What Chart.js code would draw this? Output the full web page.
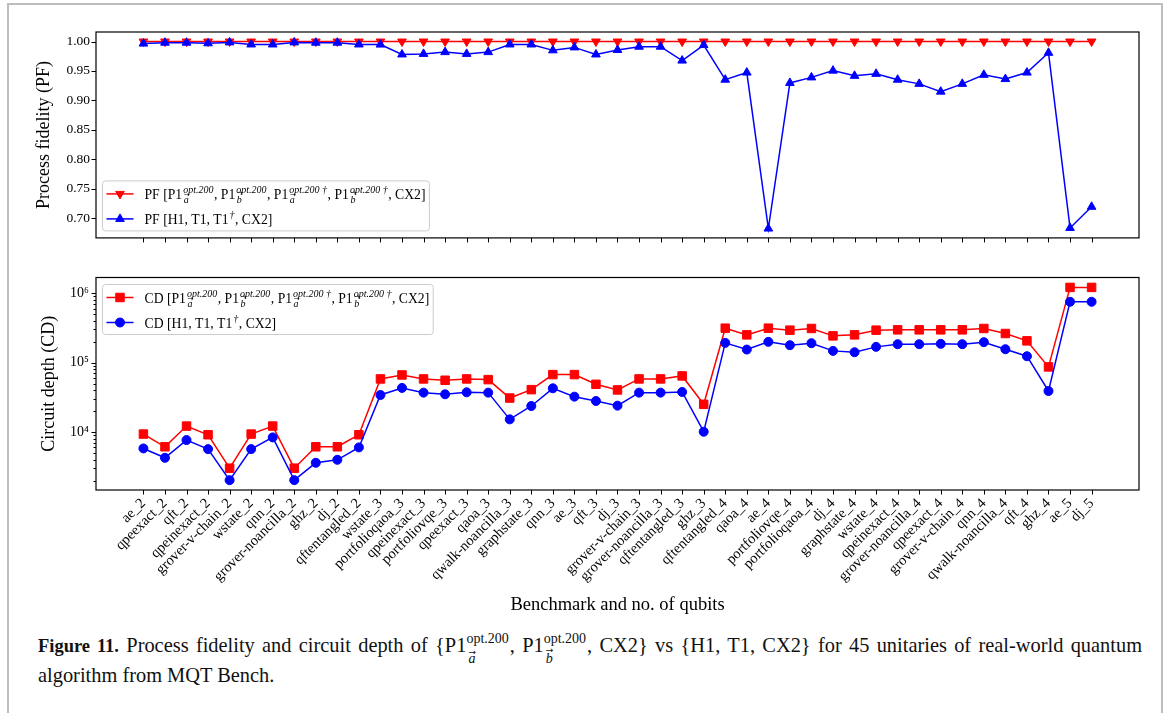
<!DOCTYPE html>
<html>
<head>
<meta charset="utf-8">
<script src="https://cdn.jsdelivr.net/npm/chart.js@4.4.0/dist/chart.umd.min.js"></script>
<style>
  body { margin: 0; background: #fff; width: 1167px; height: 713px; overflow: hidden; position: relative; font-family: "Liberation Serif", serif; }
  #frame { position: absolute; left: 7px; top: 3px; width: 1152px; height: 800px; border: 2px solid #bdbdbd; }
  canvas { position: absolute; left: 0; }
  #pf { top: 0; }
  #cd { top: 260px; }
  .cap { position: absolute; left: 38px; font-size: 20.4px; color: #111; white-space: nowrap; }
  .cap b { font-size: 18.5px; }
  #cap1 { width: 1104px; white-space: normal; text-align: justify; text-align-last: justify; }
  .ss { display: inline-flex; flex-direction: column; font-size: 14px; line-height: 14px; vertical-align: 9px; margin-right: 1px; }
  .vec { position: relative; font-style: italic; align-self: flex-start; margin: 6px 0 0 2px; }
  .arr { position: absolute; left: 0; top: -7px; font-size: 9px; font-style: normal; font-family: "DejaVu Sans", sans-serif; }
</style>
</head>
<body>
<div id="frame"></div>
<canvas id="pf" width="1167" height="252"></canvas>
<canvas id="cd" width="1167" height="360"></canvas>
<div id="cap1" class="cap" style="top:632px"><b>Figure 11.</b> Process fidelity and circuit depth of {P1<span class="ss"><span>opt.200</span><span class="vec">a<span class="arr">→</span></span></span>, P1<span class="ss"><span>opt.200</span><span class="vec">b<span class="arr" style="top:-9px">→</span></span></span>, CX2} vs {H1, T1, CX2} for 45 unitaries of real-world quantum</div>
<div class="cap" style="top:664px">algorithm from MQT Bench.</div>
<script>
const benchmarks = ['ae_2', 'qpeexact_2', 'qft_2', 'qpeinexact_2', 'grover-v-chain_2', 'wstate_2', 'qnn_2',
  'grover-noancilla_2', 'ghz_2', 'dj_2', 'qftentangled_2', 'wstate_3', 'portfolioqaoa_3', 'qpeinexact_3',
  'portfoliovqe_3', 'qpeexact_3', 'qaoa_3', 'qwalk-noancilla_3', 'graphstate_3', 'qnn_3', 'ae_3', 'qft_3',
  'dj_3', 'grover-v-chain_3', 'grover-noancilla_3', 'qftentangled_3', 'ghz_3', 'qftentangled_4', 'qaoa_4',
  'ae_4', 'portfoliovqe_4', 'portfolioqaoa_4', 'dj_4', 'graphstate_4', 'wstate_4', 'qpeinexact_4',
  'grover-noancilla_4', 'qpeexact_4', 'grover-v-chain_4', 'qnn_4', 'qwalk-noancilla_4', 'qft_4', 'ghz_4',
  'ae_5', 'dj_5'];

// process fidelity
const pfOpt = [1.0, 1.0, 1.0, 1.0, 1.0, 1.0, 1.0, 1.0, 1.0, 1.0, 1.0, 1.0, 1.0, 1.0, 1.0,
  1.0, 1.0, 1.0, 1.0, 1.0, 1.0, 1.0, 1.0, 1.0, 1.0, 1.0, 1.0, 1.0, 1.0, 1.0,
  1.0, 1.0, 1.0, 1.0, 1.0, 1.0, 1.0, 1.0, 1.0, 1.0, 1.0, 1.0, 1.0, 1.0, 1.0];
const pfBase = [0.9965, 0.998, 0.998, 0.997, 0.9985, 0.995, 0.995, 0.9985, 0.998, 0.998, 0.995, 0.9948,
  0.978, 0.979, 0.982, 0.979, 0.982, 0.995, 0.995, 0.985, 0.990, 0.978, 0.9857, 0.9912, 0.9912, 0.9676,
  0.994, 0.9351, 0.9472, 0.682, 0.9296, 0.939, 0.9505, 0.9417, 0.945, 0.9351, 0.928, 0.9148, 0.928,
  0.9434, 0.9362, 0.9472, 0.9808, 0.683, 0.719];

// circuit depth
const cdOpt = [9360, 6140, 12200, 9150, 3020, 9360, 12200, 3020, 6140, 6140, 9150, 58200, 66400, 58200,
  55700, 58200, 56900, 30900, 40800, 67200, 67200, 48700, 40400, 58200, 58200, 64300, 25100, 313000,
  251000, 313000, 293000, 310000, 242700, 251000, 293000, 296500, 296500, 296500, 296500, 310000,
  262500, 205700, 86700, 1210000, 1210000];
const cdBase = [5810, 4260, 7670, 5680, 2030, 5680, 8380, 2030, 3610, 3990, 6010, 34200, 43200, 36950,
  34960, 37350, 36950, 15230, 23720, 42660, 32340, 28010, 23990, 36950, 36950, 37760, 10110, 192300,
  154100, 199000, 178100, 190300, 147500, 141100, 168500, 184100, 184100, 186200, 184100, 196800,
  155900, 123600, 39050, 751000, 751000];

const pfTicks = [0.70, 0.75, 0.80, 0.85, 0.90, 0.95, 1.00];
const cdMajor = [1e4, 1e5, 1e6];
const cdMajorLabels = ['10⁴', '10⁵', '10⁶'];

const serif = '"Liberation Serif", serif';
Chart.defaults.font.family = serif;
Chart.defaults.color = '#000';

function marker(ctx, style, rot, r, x, y) {
  ctx.beginPath();
  if (style === 'circle') {
    ctx.arc(x, y, r, 0, Math.PI * 2);
  } else if (style === 'rect') {
    const s = r * Math.SQRT1_2;
    ctx.rect(x - s, y - s, 2 * s, 2 * s);
  } else {
    let a = rot * Math.PI / 180;
    for (let k = 0; k < 3; k++) {
      const px = x + Math.sin(a) * r, py = y - Math.cos(a) * r;
      if (k) ctx.lineTo(px, py); else ctx.moveTo(px, py);
      a += 2 * Math.PI / 3;
    }
    ctx.closePath();
  }
  ctx.fill();
  ctx.stroke();
}

// text with stacked super/subscripts (sub letters get a vector arrow), returns width
function drawRich(ctx, segs, x, base, size, dry) {
  let cx = x;
  const small = 10;
  segs.forEach(s => {
    if (s.t) {
      ctx.font = size + 'px ' + serif;
      if (!dry) ctx.fillText(s.t, cx, base);
      cx += ctx.measureText(s.t).width;
    } else {
      let w = 0;
      if (s.sup) {
        ctx.font = 'italic ' + small + 'px ' + serif;
        if (!dry) ctx.fillText(s.sup, cx + 1, base - 6);
        w = Math.max(w, ctx.measureText(s.sup).width);
      }
      if (s.sub) {
        ctx.font = 'italic ' + small + 'px ' + serif;
        const lw = ctx.measureText(s.sub).width;
        if (!dry) {
          ctx.fillText(s.sub, cx + 1.5, base + 4);
          ctx.font = '7px "DejaVu Sans", sans-serif';
          const aw = ctx.measureText('\u2192').width;
          ctx.fillText('\u2192', cx + 2 + (lw - aw) / 2, base + 4 - (s.sub === 'b' ? 7.5 : 5.5));
        }
        w = Math.max(w, lw + 1);
      }
      cx += w + 1.5;
    }
  });
  return cx - x;
}

function optLabel(p) {
  return [
    {t: p + ' [P1'}, {sub: 'a', sup: 'opt.200'},
    {t: ', P1'}, {sub: 'b', sup: 'opt.200'},
    {t: ', P1'}, {sub: 'a', sup: 'opt.200 \u2020'},
    {t: ', P1'}, {sub: 'b', sup: 'opt.200 \u2020'},
    {t: ', CX2]'}
  ];
}
function baseLabel(p) {
  return [{t: p + ' [H1, T1, T1'}, {sup: '\u2020'}, {t: ', CX2]'}];
}

const boxAndTicks = {
  id: 'boxAndTicks',
  afterDatasetsDraw(chart) {
    const {ctx, chartArea: a, scales} = chart;
    ctx.save();
    ctx.strokeStyle = '#000';
    ctx.lineWidth = 1;
    ctx.beginPath();
    scales.x.ticks.forEach(t => {
      const px = Math.round(scales.x.getPixelForValue(t.value)) + 0.5;
      ctx.moveTo(px, a.bottom);
      ctx.lineTo(px, a.bottom + 4.5);
    });
    scales.y.ticks.forEach(t => {
      const py = Math.round(scales.y.getPixelForValue(t.value)) + 0.5;
      ctx.moveTo(a.left, py);
      ctx.lineTo(a.left - (t.minor ? 2.5 : 4.5), py);
    });
    ctx.stroke();
    ctx.lineWidth = 1.2;
    ctx.strokeRect(a.left, a.top, a.right - a.left, a.bottom - a.top);
    ctx.restore();
  }
};

const mplLegend = {
  id: 'mplLegend',
  afterDraw(chart, args, opts) {
    const {ctx, chartArea: a} = chart;
    const size = 13.7;
    ctx.save();
    let tw = 0;
    opts.entries.forEach(e => { tw = Math.max(tw, drawRich(ctx, e.segs, 0, 0, size, true)); });
    const x0 = a.left + 6.5, w = 42 + tw + 4, h = 50;
    const y0 = opts.corner === 'upper' ? a.top + 7 : a.bottom - 7 - h;
    ctx.beginPath();
    ctx.roundRect(x0, y0, w, h, 3);
    ctx.fillStyle = 'rgba(255,255,255,0.8)';
    ctx.fill();
    ctx.strokeStyle = '#cccccc';
    ctx.lineWidth = 1;
    ctx.stroke();
    opts.entries.forEach((e, i) => {
      const cy = y0 + 13 + i * 25;
      ctx.strokeStyle = e.color;
      ctx.fillStyle = e.color;
      ctx.lineWidth = 1.5;
      ctx.beginPath();
      ctx.moveTo(x0 + 4, cy);
      ctx.lineTo(x0 + 31, cy);
      ctx.stroke();
      ctx.lineWidth = 1;
      marker(ctx, e.style, e.rotation || 0, e.radius, x0 + 17.5, cy);
      ctx.fillStyle = '#000';
      drawRich(ctx, e.segs, x0 + 42, cy + 5, size);
    });
    ctx.restore();
  }
};

function xAxis(showLabels, height) {
  return {
    type: 'linear', min: -2.2, max: 46.2,
    grid: {display: false, drawTicks: false}, border: {display: false},
    afterBuildTicks: s => { s.ticks = benchmarks.map((_, i) => ({value: i})); },
    afterFit: s => { s.height = height; },
    ticks: {
      display: showLabels, autoSkip: false, minRotation: 45, maxRotation: 45, padding: 5,
      font: {family: serif, size: 14.5}, callback: v => benchmarks[v]
    },
    title: {display: showLabels, text: 'Benchmark and no. of qubits', font: {family: serif, size: 18.5}, padding: {bottom: 4}}
  };
}

function series(values, color, style, radius, rotation, order) {
  return {
    data: values.map((v, i) => ({x: i, y: v})),
    borderColor: color, backgroundColor: color,
    pointBackgroundColor: color, pointBorderColor: color,
    borderWidth: 1.5, pointBorderWidth: 1,
    pointStyle: style, pointRadius: radius, pointRotation: rotation, order: order,
    tension: 0, clip: false
  };
}

new Chart(document.getElementById('pf'), {
  type: 'line',
  data: {datasets: [
    series(pfOpt, '#ff0000', 'triangle', 5, 180, 2),
    series(pfBase, '#0000ff', 'triangle', 5, 0, 1)
  ]},
  options: {
    responsive: false, animation: false,
    layout: {padding: {left: 0, right: 28, top: 32, bottom: 0}, autoPadding: false},
    plugins: {
      legend: {display: false}, tooltip: {enabled: false},
      mplLegend: {corner: 'lower', entries: [
        {color: '#ff0000', style: 'triangle', rotation: 180, radius: 5, segs: optLabel('PF')},
        {color: '#0000ff', style: 'triangle', rotation: 0, radius: 5, segs: baseLabel('PF')}
      ]}
    },
    scales: {
      x: xAxis(false, 8),
      y: {
        min: 0.6661, max: 1.0162,
        grid: {display: false, drawTicks: false}, border: {display: false},
        afterBuildTicks: s => { s.ticks = pfTicks.map(v => ({value: v})); },
        afterFit: s => { s.width = 96; },
        ticks: {autoSkip: false, padding: 6, font: {family: serif, size: 13.5}, callback: v => v.toFixed(2)},
        title: {display: true, text: 'Process fidelity (PF)', font: {family: serif, size: 18}, padding: {top: 33}}
      }
    }
  },
  plugins: [boxAndTicks, mplLegend]
});

new Chart(document.getElementById('cd'), {
  type: 'line',
  data: {datasets: [
    series(cdOpt, '#ff0000', 'rect', 6, 0, 2),
    series(cdBase, '#0000ff', 'circle', 4.5, 0, 1)
  ]},
  options: {
    responsive: false, animation: false,
    layout: {padding: {left: 0, right: 28, top: 17.5, bottom: 0}, autoPadding: false},
    plugins: {
      legend: {display: false}, tooltip: {enabled: false},
      mplLegend: {corner: 'upper', entries: [
        {color: '#ff0000', style: 'rect', radius: 6, segs: optLabel('CD')},
        {color: '#0000ff', style: 'circle', radius: 4.5, segs: baseLabel('CD')}
      ]}
    },
    scales: {
      x: xAxis(true, 130),
      y: {
        type: 'logarithmic', min: 1465, max: 1.68e6,
        grid: {display: false, drawTicks: false}, border: {display: false},
        afterBuildTicks: s => {
          const t = [];
          [1e3, 1e4, 1e5, 1e6].forEach(d => {
            for (let k = 1; k <= 9; k++) {
              const v = k * d;
              if (v >= s.min && v <= s.max) t.push({value: v, minor: k !== 1});
            }
          });
          s.ticks = t;
        },
        afterFit: s => { s.width = 96; },
        ticks: {
          autoSkip: false, padding: 7, font: {family: serif, size: 14},
          callback: v => { const i = cdMajor.indexOf(v); return i >= 0 ? cdMajorLabels[i] : ''; }
        },
        title: {display: true, text: 'Circuit depth (CD)', font: {family: serif, size: 18}, padding: {top: 38}}
      }
    }
  },
  plugins: [boxAndTicks, mplLegend]
});
</script>
</body>
</html>
